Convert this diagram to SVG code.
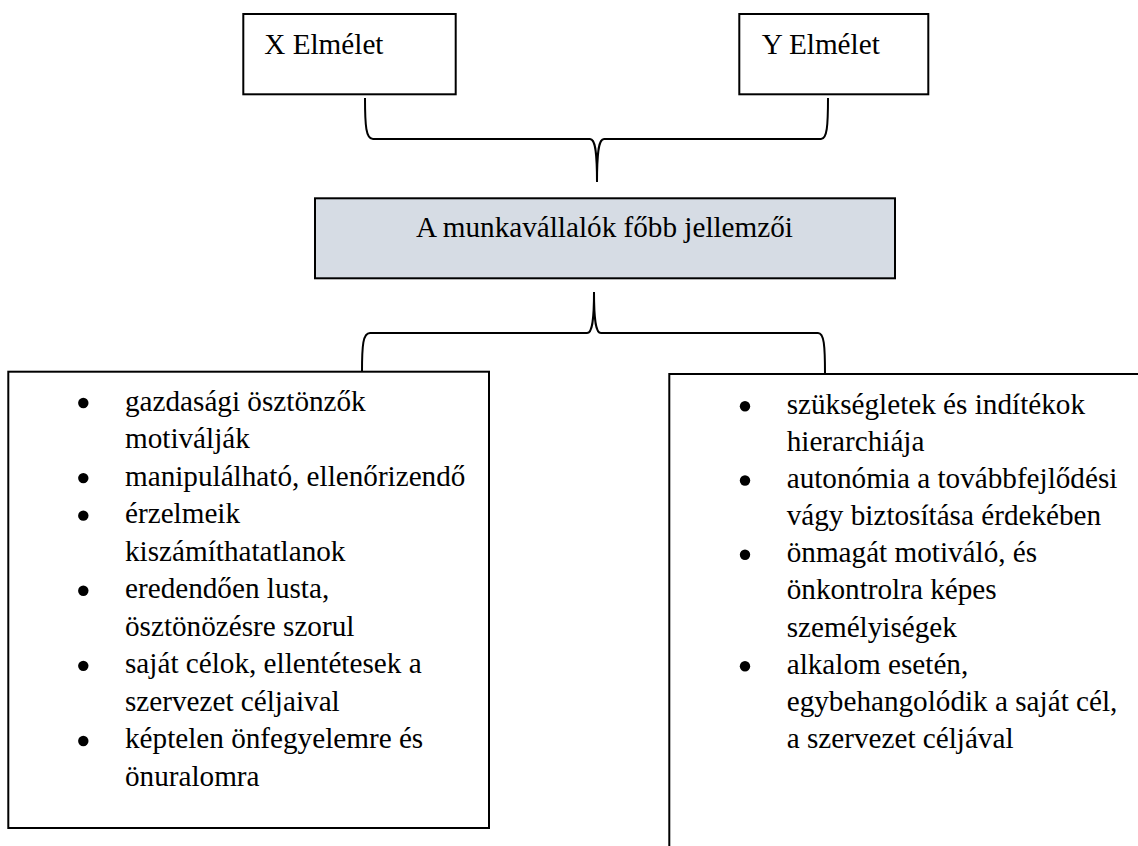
<svg xmlns="http://www.w3.org/2000/svg" width="1138" height="846" viewBox="0 0 1138 846">
<style>
.box{fill:#ffffff;stroke:#000000;stroke-width:2}
.center{fill:#D6DCE4;stroke:#000000;stroke-width:2}
.brace{fill:none;stroke:#000000;stroke-width:2}
.t{font-family:'Liberation Serif','Times New Roman',serif;font-size:29.2px;fill:#000000}
.dot{fill:#000000}
</style>
<rect x="0" y="0" width="1138" height="846" fill="#ffffff"/>
<g id="connectors">
<path class="brace" d="M365,98 C365,126 366,139 373,139 H590 C595,139 597,150 597,182 C597,150 599,139 604,139 H821 C827,139 828,126 828,98"/>
<path class="brace" d="M362,372 C362,345 363,333 370,333 H587 C592,333 594,322 594,292 C594,322 596,333 601,333 H818 C824,333 825,345 825,374"/>
</g>
<g id="x-theory">
<rect class="box" x="243.3" y="14" width="212.4" height="80.3"/>
<text class="t" x="264.3" y="53.5">X Elmélet</text>
</g>
<g id="y-theory">
<rect class="box" x="739.3" y="14" width="189" height="80.3"/>
<text class="t" x="761.7" y="53.5">Y Elmélet</text>
</g>
<g id="characteristics">
<rect class="center" x="315" y="198.3" width="580" height="80"/>
<text class="t" x="416" y="237.3">A munkavállalók főbb jellemzői</text>
</g>
<g id="x-list">
<rect class="box" x="8.3" y="371.7" width="480.7" height="456.3"/>
<circle class="dot" cx="83.3" cy="403" r="5.2"/>
<text class="t" x="125" y="410.5">gazdasági ösztönzők</text>
<text class="t" x="125" y="448.05">motiválják</text>
<circle class="dot" cx="83.3" cy="478.1" r="5.2"/>
<text class="t" x="125" y="485.6">manipulálható, ellenőrizendő</text>
<circle class="dot" cx="83.3" cy="515.65" r="5.2"/>
<text class="t" x="125" y="523.15">érzelmeik</text>
<text class="t" x="125" y="560.7">kiszámíthatatlanok</text>
<circle class="dot" cx="83.3" cy="590.75" r="5.2"/>
<text class="t" x="125" y="598.25">eredendően lusta,</text>
<text class="t" x="125" y="635.8">ösztönözésre szorul</text>
<circle class="dot" cx="83.3" cy="665.85" r="5.2"/>
<text class="t" x="125" y="673.35">saját célok, ellentétesek a</text>
<text class="t" x="125" y="710.9">szervezet céljaival</text>
<circle class="dot" cx="83.3" cy="740.95" r="5.2"/>
<text class="t" x="125" y="748.45">képtelen önfegyelemre és</text>
<text class="t" x="125" y="786">önuralomra</text>
</g>
<g id="y-list">
<rect class="box" x="669.3" y="374" width="500" height="500"/>
<circle class="dot" cx="745" cy="406.2" r="5.2"/>
<text class="t" x="786.7" y="413.7">szükségletek és indítékok</text>
<text class="t" x="786.7" y="450.85">hierarchiája</text>
<circle class="dot" cx="745" cy="480.5" r="5.2"/>
<text class="t" x="786.7" y="488">autonómia a továbbfejlődési</text>
<text class="t" x="786.7" y="525.15">vágy biztosítása érdekében</text>
<circle class="dot" cx="745" cy="554.8" r="5.2"/>
<text class="t" x="786.7" y="562.3">önmagát motiváló, és</text>
<text class="t" x="786.7" y="599.45">önkontrolra képes</text>
<text class="t" x="786.7" y="636.6">személyiségek</text>
<circle class="dot" cx="745" cy="666.25" r="5.2"/>
<text class="t" x="786.7" y="673.75">alkalom esetén,</text>
<text class="t" x="786.7" y="710.9">egybehangolódik a saját cél,</text>
<text class="t" x="786.7" y="748.05">a szervezet céljával</text>
</g>
</svg>
